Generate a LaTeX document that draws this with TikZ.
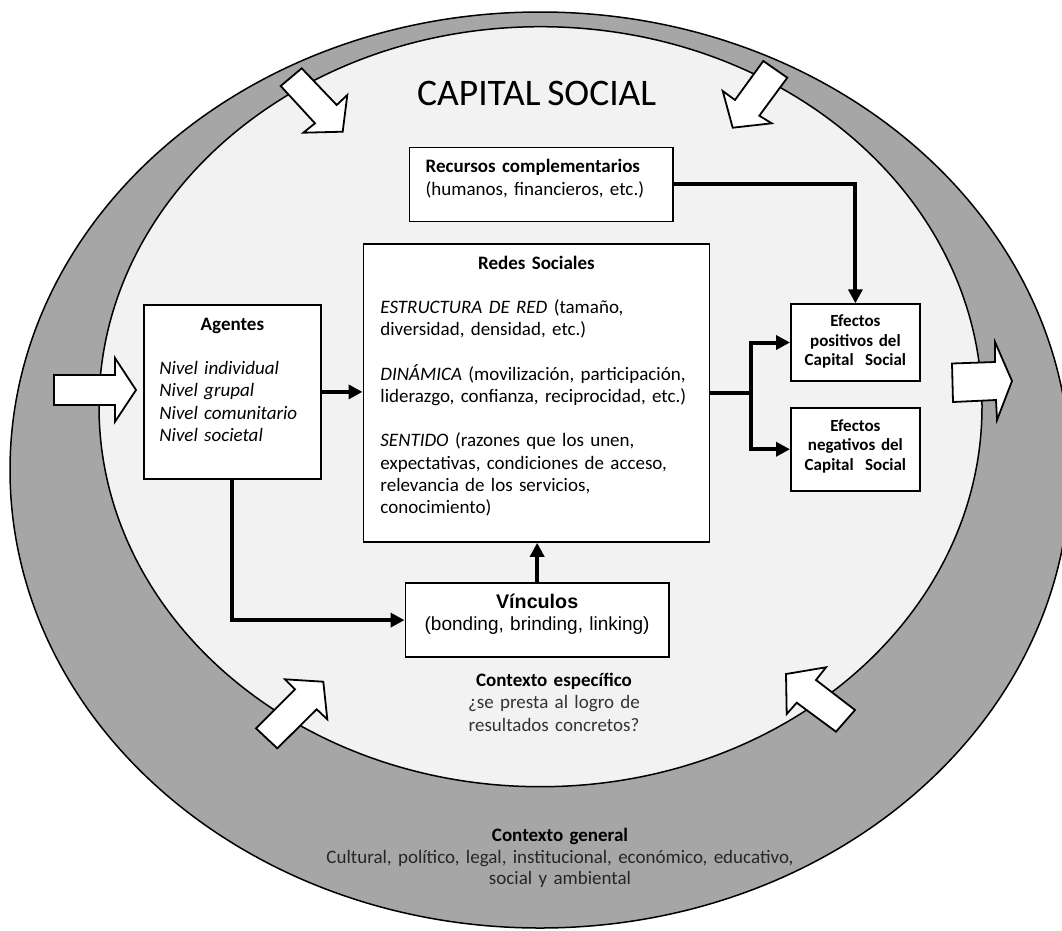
\documentclass[tikz,border=0pt]{standalone}
\usepackage{fontspec}
\setmainfont[WordSpace=0.8]{Carlito}
\newfontfamily\arialfont{Liberation Sans}
\usetikzlibrary{arrows.meta}
\definecolor{ringgray}{HTML}{A6A6A6}
\definecolor{innergray}{HTML}{F2F2F2}
\begin{document}
\begin{tikzpicture}[x=1pt,y=-1pt,
  box/.style={draw=black, line width=1.8pt, fill=white, inner ysep=0pt, anchor=north west},
  body/.style={font=\fontsize{19}{22.2}\selectfont},
  effect/.style={box, inner xsep=0pt, text width=129pt, align=center,
    font=\fontsize{17}{19.6}\selectfont\bfseries},
  conn/.style={line width=4pt, -{Triangle[length=14pt,width=14pt]}},
  plainline/.style={line width=4pt},
  bigarrow/.style={draw=black, fill=white, line width=1.8pt, line join=miter},
  ring/.style={draw=black, line width=1.5pt}]

\useasboundingbox (0,0) rectangle (1062,930);

% outer ring (general context) and inner area (social capital)
\begin{scope}
  \clip (0,0) rectangle (1062,930);
  \draw[ring, fill=ringgray] (540,470) ellipse [x radius=530pt, y radius=458pt];
  \draw[ring, fill=innergray] (540.5,406.7) ellipse [x radius=441.5pt, y radius=380pt];
\end{scope}

% block arrows crossing the ring
\draw[bigarrow] (54,375) -- (115,375) -- (115,358) -- (136,390) -- (115,421.7) -- (115,405) -- (54,405) -- cycle;
\draw[bigarrow] (952,363.5) -- (995,362) -- (995,342) -- (1012,381) -- (997,420) -- (996,400) -- (953,402) -- cycle;
\draw[bigarrow] (301.7,68.3) -- (336.7,105) -- (347.3,95) -- (342.7,131.7) -- (303.3,132.7) -- (315,123.3) -- (280.7,86) -- cycle;
\draw[bigarrow] (763.3,61) -- (787.3,77.7) -- (759.3,115.7) -- (771.7,123.3) -- (732.7,127.7) -- (722.7,91) -- (735,100) -- cycle;
\draw[bigarrow] (256,728.3) -- (277.3,748.3) -- (316.7,709.3) -- (327.3,719.3) -- (323.3,681.7) -- (285,679.3) -- (295,689.3) -- cycle;
\draw[bigarrow] (855,710) -- (836,731.7) -- (796.7,702.7) -- (786.7,714) -- (786,674) -- (826,667.3) -- (816,680) -- cycle;

% title
\node[anchor=base, inner sep=0pt, font=\fontsize{37.5}{42}\selectfont] (title) at (536.7,105) {CAPITAL SOCIAL};

% boxes
\node[box, body, inner xsep=16.3pt, text width=230.9pt, text height=25.5pt, text depth=48.6pt, align=left]
  (recursos) at (408.5,146.5) {\textbf{Recursos complementarios}\\(humanos, financieros, etc.)};

\node[box, body, inner xsep=17pt, text width=312.1pt, text height=25.3pt, text depth=272.7pt, align=left]
  (redes) at (362.5,243) {\makebox[\linewidth]{\textbf{Redes Sociales}}\\[22.2pt]
  \textit{ESTRUCTURA DE RED} (tamaño,\\diversidad, densidad, etc.)\\[22.2pt]
  \textit{DINÁMICA} (movilización, participación,\\liderazgo, confianza, reciprocidad, etc.)\\[22.2pt]
  \textit{SENTIDO} (razones que los unen,\\expectativas, condiciones de acceso,\\relevancia de los servicios,\\conocimiento)};

\node[box, body, inner xsep=15.5pt, text width=146pt, text height=25.4pt, text depth=148.6pt, align=left]
  (agentes) at (143,304) {\makebox[\linewidth]{\textbf{Agentes}}\\[22.2pt]
  \textit{Nivel individual}\\\textit{Nivel grupal}\\\textit{Nivel comunitario}\\\textit{Nivel societal}};

\node[effect, text height=22.4pt, text depth=54.2pt] (efpos) at (790,303.3)
  {Efectos\\positivos del\\Capital\ \ Social};
\node[effect, text height=23.5pt, text depth=59.8pt] (efneg) at (790,406.7)
  {Efectos\\negativos del\\Capital\ \ Social};

\node[box, inner xsep=0pt, text width=263.5pt, text height=25pt, text depth=48.6pt, align=center,
  font=\arialfont\fontsize{19}{22.6}\selectfont]
  (vinculos) at (404.5,582.4) {{\fontsize{19.7}{22.6}\selectfont\bfseries Vínculos}\\(bonding, brinding, linking)};

% context labels
\node[anchor=base, inner sep=0pt, text width=300pt, align=center, body]
  (ctxesp) at (554,686.7) {\textbf{Contexto específico}\\\textcolor{black!80}{¿se presta al logro de}\\\textcolor{black!80}{resultados concretos?}};
\node[anchor=base, inner sep=0pt, text width=520pt, align=center, font=\fontsize{19}{21.8}\selectfont]
  (ctxgen) at (560,841.3) {\textbf{Contexto general}\\\textcolor{black!85}{Cultural, político, legal, institucional, económico, educativo,}\\\textcolor{black!85}{social y ambiental}};

% connectors
\draw[conn] (agentes.east) -- (agentes.east -| redes.west);
\draw[conn] (agentes.south) |- (vinculos.west);
\draw[conn] (vinculos.north) -- (vinculos.north |- redes.south);
\draw[conn] (recursos.east) -| (efpos.north);
\coordinate (split) at ([xshift=40.7pt]redes.east);
\draw[plainline] (redes.east) -- (split);
\draw[conn] (split) |- (efpos.west);
\draw[conn] (split) |- (efneg.west);

\end{tikzpicture}
\end{document}
